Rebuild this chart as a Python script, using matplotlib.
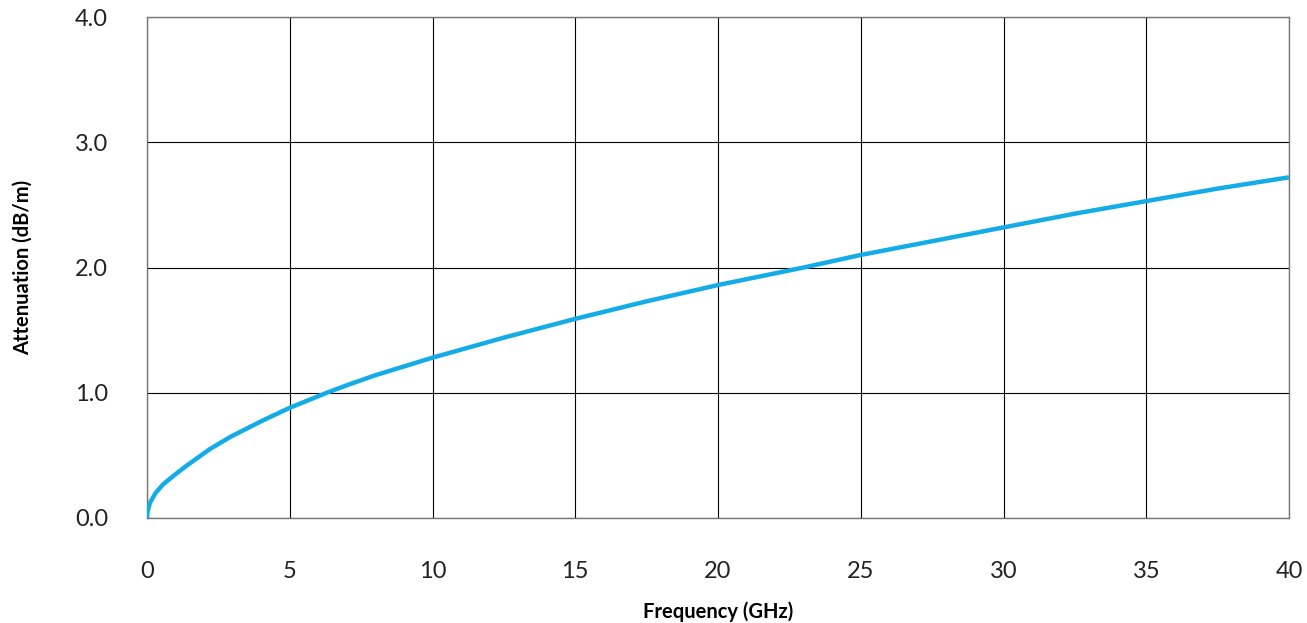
import matplotlib
matplotlib.use('Agg')
import matplotlib.pyplot as plt

plt.rcParams['font.family'] = ['Lato', 'DejaVu Sans']

# values
freq = [0, 0.02, 0.1, 0.3, 0.57, 1.0, 1.4, 2.2, 2.9, 3.5, 4.07, 5.0, 6.3, 7.0, 8.0, 9.0, 10, 12.5, 15, 17.5, 20, 23, 25, 27.5, 30, 32.5, 35, 37.5, 40]
atten = [0, 0.05, 0.12, 0.2, 0.27, 0.35, 0.42, 0.55, 0.645, 0.715, 0.78, 0.88, 1.0, 1.06, 1.14, 1.21, 1.28, 1.44, 1.59, 1.73, 1.86, 2.0, 2.1, 2.21, 2.32, 2.43, 2.53, 2.63, 2.72]

xticks = [0, 5, 10, 15, 20, 25, 30, 35, 40]
yticks = [0.0, 1.0, 2.0, 3.0, 4.0]

fig = plt.figure(figsize=(13.07, 6.23), dpi=100)
ax = fig.add_axes([147/1307, 105/623, 1142/1307, 501/623])

ax.plot(freq, atten, color='#14ace6', linewidth=3.2, solid_capstyle='butt',
        solid_joinstyle='round', zorder=3)

ax.set_xlim(0, 40)
ax.set_ylim(0, 4)
ax.set_xticks(xticks)
ax.set_yticks(yticks)
ax.set_yticklabels(['%.1f' % v for v in yticks])
ax.tick_params(length=0, labelsize=17, colors='#222222')
ax.tick_params(axis='x', pad=31)
ax.tick_params(axis='y', pad=28)
ax.grid(color='black', linewidth=0.8)
for s in ax.spines.values():
    s.set_color('#777777')
    s.set_linewidth(1.0)

ax.set_xlabel('Frequency (GHz)', fontsize=14.5, fontweight='bold', labelpad=14)
ax.set_ylabel('Attenuation (dB/m)', fontsize=14.5, fontweight='bold', labelpad=30)

fig.savefig('out.png', dpi=100)
